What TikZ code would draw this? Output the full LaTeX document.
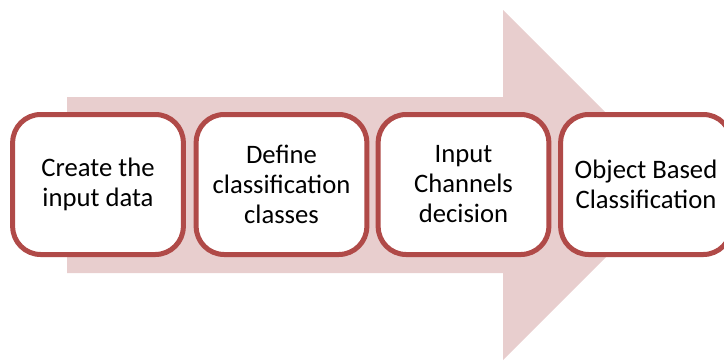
\documentclass[tikz,border=0pt]{standalone}
\usepackage{fontspec}
\setmainfont{Carlito}
\definecolor{arrowfill}{RGB}{232,206,206}
\definecolor{boxline}{RGB}{176,74,72}
\begin{document}
\begin{tikzpicture}[x=0.75pt,y=-0.75pt,
  stepbox/.style={draw=boxline,line width=3.75pt,fill=white,rounded corners=21pt,
    minimum width=128pt,minimum height=105pt,align=center,inner sep=0pt,
    font=\fontsize{20}{22.5}\selectfont},
]
\useasboundingbox (0,0) rectangle (724,361);
% big background arrow
\fill[arrowfill] (67,97) -- (503,97) -- (503,10) -- (678,185) -- (503,360) -- (503,273) -- (67,273) -- cycle;
% process steps
\node[stepbox] (s1) at (98,184.5) {Create the\\input data};
\node[stepbox] (s2) at (281.5,184.5) {Define\\classification\\classes};
\node[stepbox] (s3) at (463.5,184.5) {Input\\Channels\\decision};
\node[stepbox] (s4) at (646,184.5) {Object Based\\Classification};
\end{tikzpicture}
\end{document}
